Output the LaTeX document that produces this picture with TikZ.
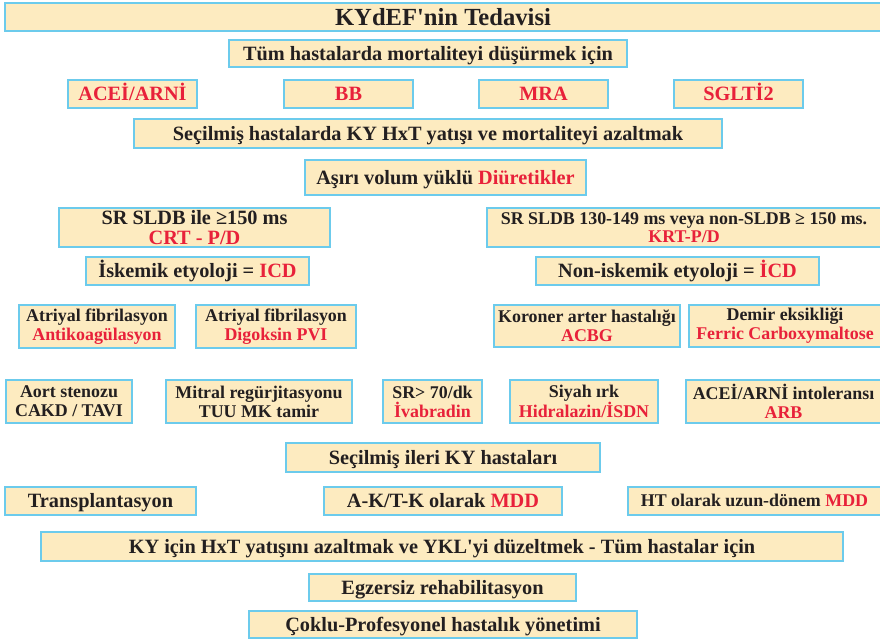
\documentclass[tikz,border=0pt]{standalone}
\usepackage{fontspec}
\setmainfont{Liberation Serif}[Ligatures=TeXOff]
\definecolor{kfill}{HTML}{FDEBC0}
\definecolor{kline}{HTML}{6CCBEC}
\definecolor{kred}{HTML}{E8213A}
\definecolor{kink}{HTML}{231F20}
\newcommand\hl[1]{\textcolor{kred}{#1}}
\tikzset{
  kbox/.style={draw=kline, fill=kfill, line width=1.6pt, inner sep=0pt, text=kink},
  ttl/.style={font=\fontsize{24.6}{26}\selectfont\bfseries, text height=16.3pt, text depth=0pt},
  big/.style={font=\fontsize{20.3}{22}\selectfont\bfseries, text height=13.4pt, text depth=0pt},
  small/.style={font=\fontsize{17.9}{19.5}\selectfont\bfseries, text height=11.8pt, text depth=0pt},
  bigtwo/.style={font=\fontsize{20.3}{21.5}\selectfont\bfseries, align=center},
  smalltwo/.style={font=\fontsize{17.9}{19}\selectfont\bfseries, align=center},
  sz/.style 2 args={minimum width=#1pt, minimum height=#2pt},
}
\begin{document}
\begin{tikzpicture}[x=1pt,y=-1pt]
\useasboundingbox (0,0) rectangle (880,642);
\clip (0,0) rectangle (880,642);

% heading
\node[kbox, ttl, sz={876}{28.5}] (title) at (443,17) {KYdEF'nin Tedavisi};

% therapies for all patients
\node[kbox, big, sz={398.5}{27.5}] (tum) at (428,53.5) {Tüm hastalarda mortaliteyi düşürmek için};
\node[kbox, big, sz={129.5}{28.5}] (acei) at (132.5,94) {\hl{ACEİ/ARNİ}};
\node[kbox, big, sz={129.5}{28.5}] (bb)   at (348.5,94) {\hl{BB}};
\node[kbox, big, sz={129.5}{28.5}] (mra)  at (543.5,94) {\hl{MRA}};
\node[kbox, big, sz={129.5}{28.5}] (sglt) at (738.5,94) {\hl{SGLTİ2}};

% selected patients
\node[kbox, big, sz={588.5}{29.5}] (secil) at (428,133.5) {Seçilmiş hastalarda KY HxT yatışı ve mortaliteyi azaltmak};
\node[kbox, big, sz={281.5}{35.5}] (asiri) at (445.5,177.5) {Aşırı volum yüklü \hl{Diüretikler}};

% devices
\node[kbox, bigtwo, sz={271.5}{39.5}] (sr1) at (194.5,227.5) {SR SLDB ile ≥150 ms\\[-1pt]\hl{CRT - P/D}};
\node[kbox, smalltwo, sz={394.5}{39.5}] (sr2) at (684,227.5) {SR SLDB 130-149 ms veya non-SLDB ≥ 150 ms.\\[-1pt]\hl{KRT-P/D}};
\node[kbox, big, sz={223.5}{28.5}] (isk) at (197.5,271) {İskemik etyoloji = \hl{ICD}};
\node[kbox, big, sz={283.5}{28.5}] (noni) at (677.5,271) {Non-iskemik etyoloji = \hl{İCD}};

% comorbidities, first row
\node[kbox, smalltwo, sz={156.5}{43.5}] (af1) at (97,326.5) {Atriyal fibrilasyon\\\hl{Antikoagülasyon}};
\node[kbox, smalltwo, sz={160.5}{43.5}] (af2) at (276,326.5) {Atriyal fibrilasyon\\\hl{Digoksin PVI}};
\node[kbox, smalltwo, sz={186.5}{42.5}] (kor) at (587,326) {Koroner arter hastalığı\\\hl{ACBG}};
\node[kbox, smalltwo, sz={192.5}{42.5}] (dem) at (785,326) {Demir eksikliği\\\hl{Ferric Carboxymaltose}};

% comorbidities, second row
\node[kbox, smalltwo, sz={126.5}{43.5}] (aort) at (69,401.5) {Aort stenozu\\CAKD / TAVI};
\node[kbox, smalltwo, sz={186.5}{43.5}] (mitr) at (259,401.5) {Mitral regürjitasyonu\\TUU MK tamir};
\node[kbox, smalltwo, sz={99.5}{43.5}] (sr70) at (432.5,401.5) {SR> 70/dk\\\hl{İvabradin}};
\node[kbox, smalltwo, sz={148.5}{43.5}] (siyah) at (584,401.5) {Siyah ırk\\\hl{Hidralazin/İSDN}};
\node[kbox, smalltwo, sz={195.5}{43.5}] (aint) at (783.5,401.5) {ACEİ/ARNİ intoleransı\\\hl{ARB}};

% advanced heart failure
\node[kbox, big, sz={314.5}{29.5}] (ileri) at (443,457.5) {Seçilmiş ileri KY hastaları};
\node[kbox, big, sz={191.5}{28.5}] (trans) at (100.5,501) {Transplantasyon};
\node[kbox, big, sz={238.5}{28.5}] (aktk) at (443,501) {A-K/T-K olarak \hl{MDD}};
\node[kbox, small, sz={253.5}{28.5}] (ht) at (754.5,501) {HT olarak uzun-dönem \hl{MDD}};

% measures for all patients
\node[kbox, big, sz={802.5}{29.5}] (kyicin) at (442,546.5) {KY için HxT yatışını azaltmak ve YKL'yi düzeltmek - Tüm hastalar için};
\node[kbox, big, sz={267.5}{27.5}] (egz) at (442.5,587.5) {Egzersiz rehabilitasyon};
\node[kbox, big, sz={388.5}{27.5}] (coklu) at (443,624.5) {Çoklu-Profesyonel hastalık yönetimi};
\end{tikzpicture}
\end{document}
